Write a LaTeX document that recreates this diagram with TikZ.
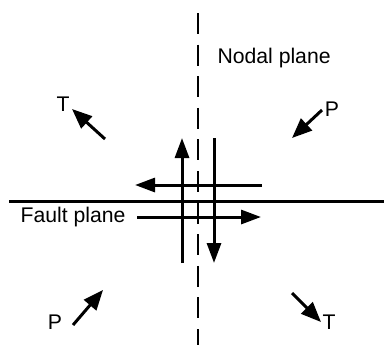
\documentclass[tikz,border=0pt]{standalone}
\usepackage{fontspec}
\setmainfont{Liberation Sans}
\usetikzlibrary{arrows.meta}

\begin{document}
\begin{tikzpicture}[x=0.5pt, y=-0.5pt, line width=1.5pt,
    slip/.style={-{Triangle[length=10pt, width=7pt]}},
    stress/.style={-{Triangle[length=10pt, width=8pt]}},
    lbl/.style={inner sep=0pt, font=\fontsize{10.6}{12}\selectfont}]
  \useasboundingbox (0,0) rectangle (384,345);
  % nodal plane (dashed) and fault plane
  \coordinate (ntop) at (198,13);
  \coordinate (nbot) at (198,345);
  \draw[line width=1.4pt, dash pattern=on 10.5pt off 5.3pt] (ntop) -- (nbot);
  \coordinate (fleft) at (9,201);
  \coordinate (fright) at (384,201);
  \draw (fleft) -- (fright);
  \node[lbl, anchor=west] (nodal) at (216,58) {Nodal plane};
  \node[lbl, anchor=east] (fault) at (127,217) {Fault plane};
  % slip arrows
  \coordinate (upa) at (182,263);  \coordinate (upb) at (182,138);
  \coordinate (dna) at (214,138);  \coordinate (dnb) at (214,263);
  \coordinate (lfa) at (262,185);  \coordinate (lfb) at (135,185);
  \coordinate (rta) at (137,217);  \coordinate (rtb) at (261,217);
  \draw[slip] (upa) -- (upb);
  \draw[slip] (dna) -- (dnb);
  \draw[slip] (lfa) -- (lfb);
  \draw[slip] (rta) -- (rtb);
  % P and T axes
  \node[lbl] (tul) at (63,104) {T};
  \node[lbl] (pur) at (332,109) {P};
  \node[lbl] (pll) at (55,322) {P};
  \node[lbl] (tlr) at (329,322) {T};
  \coordinate (tula) at (105,139);  \coordinate (tulb) at (72,109);
  \coordinate (pura) at (322,110);  \coordinate (purb) at (292,138);
  \coordinate (plla) at (73,325);   \coordinate (pllb) at (103,290);
  \coordinate (tlra) at (292,293);  \coordinate (tlrb) at (321,322);
  \draw[stress] (tula) -- (tulb);
  \draw[stress] (pura) -- (purb);
  \draw[stress] (plla) -- (pllb);
  \draw[stress] (tlra) -- (tlrb);
\end{tikzpicture}
\end{document}
